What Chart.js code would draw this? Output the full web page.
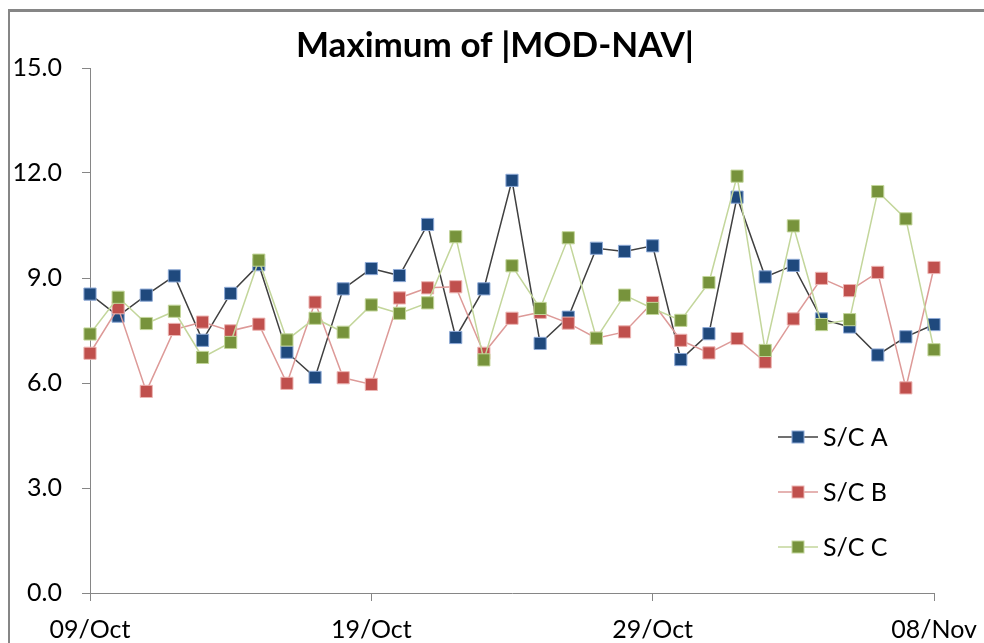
<!DOCTYPE html>
<html>
<head>
<meta charset="utf-8">
<script src="https://cdn.jsdelivr.net/npm/chart.js@4.4.1/dist/chart.umd.min.js"></script>
<style>
  body { margin: 0; background: #fff; overflow: hidden; }
  #frame { position: absolute; left: 8px; top: 9px; width: 1100px; height: 800px;
           border-left: 2px solid #868686; border-top: 3px solid #868686; }
  #wrap { position: absolute; left: 0; top: 0; width: 984px; height: 643px; }
</style>
</head>
<body>
<div id="frame"></div>
<div id="wrap"><canvas id="chart" width="984" height="643"></canvas></div>
<script>
const days = [
  '09/Oct', '10/Oct', '11/Oct', '12/Oct', '13/Oct', '14/Oct', '15/Oct', '16/Oct',
  '17/Oct', '18/Oct', '19/Oct', '20/Oct', '21/Oct', '22/Oct', '23/Oct', '24/Oct',
  '25/Oct', '26/Oct', '27/Oct', '28/Oct', '29/Oct', '30/Oct', '31/Oct', '01/Nov',
  '02/Nov', '03/Nov', '04/Nov', '05/Nov', '06/Nov', '07/Nov', '08/Nov'
]

const scA = [ 8.54, 7.91, 8.51, 9.06, 7.22, 8.56, 9.38, 6.88, 6.16, 8.69, 9.27, 9.07, 10.53, 7.30, 8.69, 11.79,
  7.13, 7.88, 9.85, 9.76, 9.92, 6.67, 7.41, 11.31, 9.03, 9.36, 7.83, 7.60, 6.80, 7.32, 7.67 ]
const scB = [ 6.85, 8.15, 5.76, 7.53, 7.74, 7.49, 7.68, 5.99, 8.31, 6.15, 5.96, 8.43, 8.72, 8.75, 6.85, 7.85,
  8.02, 7.71, 7.28, 7.46, 8.30, 7.22, 6.86, 7.27, 6.60, 7.83, 8.99, 8.64, 9.16, 5.86, 9.30 ]
const scC = [ 7.40, 8.45, 7.70, 8.05, 6.73, 7.16, 9.51, 7.23, 7.85, 7.45, 8.23, 7.99, 8.29, 10.18, 6.66, 9.35,
  8.13, 10.15, 7.28, 8.51, 8.13, 7.79, 8.87, 11.91, 6.93, 10.49, 7.67, 7.81, 11.47, 10.69, 6.95 ]

const axisColor = '#868686'
const font = 'Lato'

const series = ( label, values, line, marker, edge, order ) => ( {
  label: label,
  data: values,
  borderColor: line,
  borderWidth: 1.5,
  pointStyle: 'rect',
  pointRadius: 8.6,
  pointBackgroundColor: marker,
  pointBorderColor: edge,
  pointBorderWidth: 1,
  tension: 0,
  order: order
} )

// title in the original is centred a bit right of the canvas middle
const titleShift = {
  id: 'titleShift',
  afterLayout( chart ) {
    chart.titleBlock.left += 56
  }
}

// legend sits inside the plot, lower right, line through a square marker
const innerLegend = {
  id: 'innerLegend',
  afterDraw( chart ) {
    const ctx = chart.ctx
    const x = chart.chartArea.right - 156
    chart.data.datasets.forEach( ( ds, i ) => {
      const y = 437 + i * 55
      ctx.save()
      ctx.strokeStyle = ds.borderColor
      ctx.lineWidth = ds.borderWidth
      ctx.beginPath()
      ctx.moveTo( x, y )
      ctx.lineTo( x + 40, y )
      ctx.stroke()
      ctx.fillStyle = ds.pointBackgroundColor
      ctx.fillRect( x + 14, y - 6, 12, 12 )
      ctx.strokeStyle = ds.pointBorderColor
      ctx.lineWidth = 1
      ctx.strokeRect( x + 14, y - 6, 12, 12 )
      ctx.fillStyle = '#000'
      ctx.font = '25px ' + font
      ctx.textBaseline = 'middle'
      ctx.fillText( ds.label, x + 45, y + 1 )
      ctx.restore()
    } )
  }
}

const config = {
  type: 'line',
  data: {
    labels: days,
    datasets: [
      series( 'S/C A', scA, '#404040', '#1f497d', '#8eaad6', 2 ),
      series( 'S/C B', scB, '#dd9a98', '#c0504d', '#ecb5b3', 1 ),
      series( 'S/C C', scC, '#c3d69b', '#77933c', '#c3d69b', 0 )
    ]
  },
  options: {
    responsive: false,
    animation: false,
    layout: { padding: { top: 0, right: 50, left: 0, bottom: 0 } },
    plugins: {
      legend: { display: false },
      tooltip: { enabled: false },
      title: {
        display: true,
        text: 'Maximum of |MOD-NAV|',
        color: '#000',
        font: { family: font, size: 35, weight: 'bold', lineHeight: 1.2 },
        padding: { top: 25, bottom: 1 }
      }
    },
    scales: {
      x: {
        offset: false,
        afterFit: scale => {
          scale.height = 50
          scale.paddingLeft = 0
          scale.paddingRight = 0
        },
        border: { color: axisColor, width: 1 },
        grid: { drawOnChartArea: false, drawTicks: true, tickLength: 8, color: axisColor },
        ticks: {
          autoSkip: false,
          maxRotation: 0,
          padding: 14,
          color: '#000',
          font: { family: font, size: 25 },
          callback: function ( value, index ) { return index % 10 === 0 ? this.getLabelForValue( value ) : null }
        }
      },
      y: {
        min: 0,
        max: 15,
        afterFit: scale => { scale.width = 90 },
        border: { color: axisColor, width: 1 },
        grid: { drawOnChartArea: false, drawTicks: true, tickLength: 8, color: axisColor },
        ticks: {
          stepSize: 3,
          padding: 20,
          color: '#000',
          font: { family: font, size: 25 },
          callback: value => value.toFixed( 1 )
        }
      }
    }
  },
  plugins: [ titleShift, innerLegend ]
}

const graph = new Chart( document.getElementById( 'chart' ), config )
</script>
</body>
</html>
